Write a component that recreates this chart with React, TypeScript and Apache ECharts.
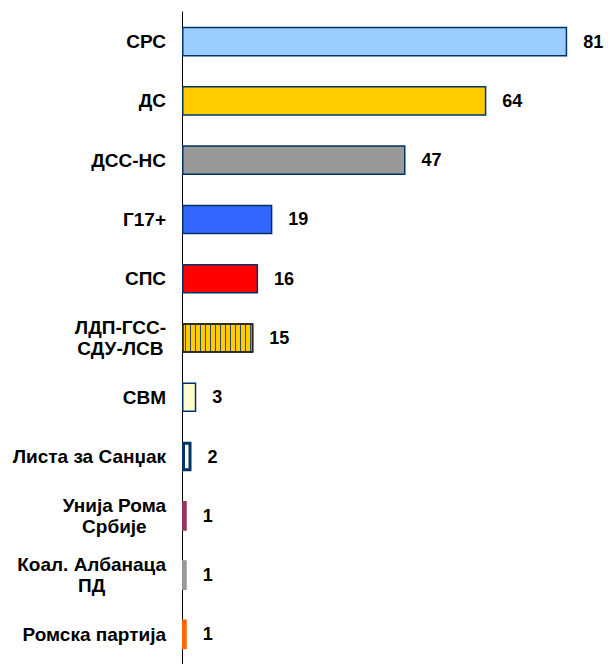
import React, { useEffect, useRef } from "react";
import * as echarts from "echarts";

const categories = [
  "СРС",
  "ДС",
  "ДСС-НС",
  "Г17+",
  "СПС",
  "ЛДП-ГСС-\nСДУ-ЛСВ",
  "СВМ",
  "Листа за Санџак",
  "Унија Рома\nСрбије",
  "Коал. Албанаца\nПД",
  "Ромска партија",
];
const values = [81, 64, 47, 19, 16, 15, 3, 2, 1, 1, 1];
const fillColors = [
  "#99CCFF",
  "#FFCC00",
  "#999999",
  "#3366FF",
  "#FF0000",
  "#FFCC00",
  "#FFFFCC",
  "#FFFFFF",
  "#993366",
  "#999999",
  "#FF6600",
];
const borderColors = [
  "#003366",
  "#003366",
  "#003366",
  "#003366",
  "#003366",
  "#222222",
  "#003366",
  "#003366",
  null,
  null,
  null,
];
const borderWidths = [1.5, 1.5, 1.5, 1.5, 1.5, 1.5, 1.5, 3, 2, 2, 2];
const stripedIndex = 5;

const FONT = "'Liberation Sans', Arial, Helvetica, sans-serif";

export default function App() {
  const ref = useRef<HTMLDivElement>(null);
  useEffect(() => {
    document.body.style.margin = "0";
    if (!ref.current) return;
    const chart = echarts.init(ref.current, undefined, { renderer: "svg" });
    const data = values.map((v, i) => {
      const itemStyle: any = {
        color: fillColors[i],
        borderColor: borderColors[i] || fillColors[i],
        borderWidth: borderWidths[i],
      };
      if (i === stripedIndex) {
        itemStyle.decal = {
          symbol: "rect",
          symbolSize: 1,
          dashArrayX: [1, 4],
          dashArrayY: [5, 0],
          color: "#3a4660",
          rotation: 0,
        };
      }
      return { value: v, itemStyle };
    });
    chart.setOption({
      animation: false,
      grid: { left: 182, top: 12, width: 431, height: 656 },
      xAxis: {
        type: "value",
        min: 0,
        max: 90,
        show: false,
      },
      yAxis: {
        type: "category",
        inverse: true,
        data: categories,
        axisLine: { show: true, lineStyle: { color: "#000", width: 1 } },
        axisTick: { show: false },
        splitLine: { show: false },
        axisLabel: {
          margin: 16,
          align: "right",
          color: "#000",
          fontFamily: FONT,
          fontWeight: "bold",
          fontSize: 19,
          lineHeight: 21,
          formatter: (val: string) =>
            val
              .split("\n")
              .map((l) => "{c|" + l + "}")
              .join("\n"),
          rich: {
            c: {
              align: "center",
              color: "#000",
              fontFamily: FONT,
              fontWeight: "bold",
              fontSize: 19,
              lineHeight: 21,
            },
          },
        },
      },
      series: [
        {
          type: "bar",
          data,
          barCategoryGap: "50%",
          label: {
            show: true,
            position: "right",
            distance: 16,
            color: "#000",
            fontFamily: FONT,
            fontWeight: "bold",
            fontSize: 18,
          },
        },
      ],
    });
    return () => chart.dispose();
  }, []);
  return <div ref={ref} style={{ width: 610, height: 664 }} />;
}
